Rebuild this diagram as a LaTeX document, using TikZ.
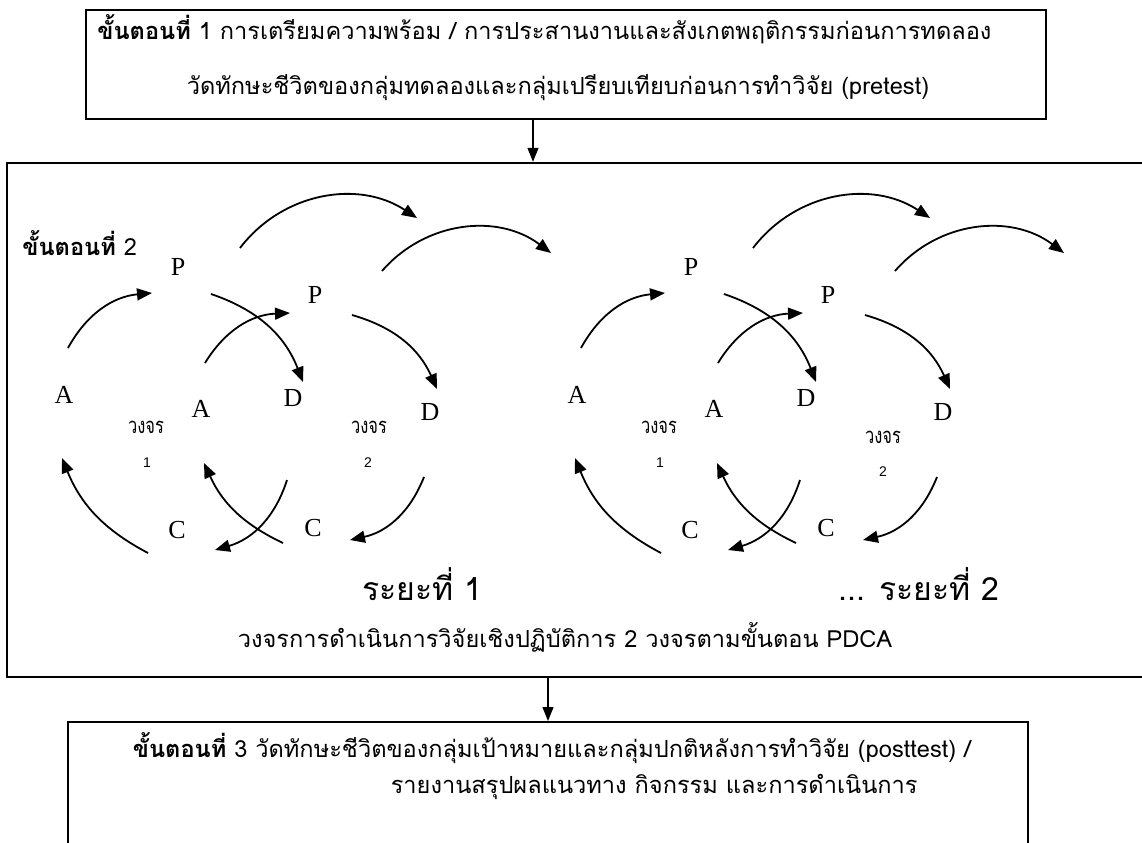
\documentclass[tikz,border=0pt]{standalone}
\usepackage{fontspec}
\usepackage{graphicx}
\setmainfont{Liberation Serif}
\newfontfamily\thaifont[Script=Thai]{Loma}
\newfontfamily\numfont{Liberation Sans}
\usetikzlibrary{arrows.meta,calc}

\tikzset{
  stepbox/.style={draw, line width=1pt, inner sep=0pt},
  flow/.style={-{Triangle[length=7pt,width=5.5pt]}, line width=0.6pt},
  cyc/.style={-{Triangle[length=7.5pt,width=6pt]}, line width=0.9pt},
  letter/.style={font=\fontsize{13}{15}\selectfont, inner sep=0pt},
  thai/.style={font=\thaifont\fontsize{11.8}{14}\selectfont, inner sep=0pt},
  phase/.style={font=\thaifont\fontsize{16}{18}\selectfont, inner sep=0pt},
  cyclab/.style={font=\thaifont\fontsize{11}{12}\selectfont, inner sep=0pt},
  cycnum/.style={font=\numfont\fontsize{7}{8}\selectfont, inner sep=0pt},
}

\begin{document}
\begin{tikzpicture}[x=0.5pt, y=-0.5pt]
  \useasboundingbox (0,0) rectangle (1142,842);

  % step boxes
  \node[stepbox, minimum width=480pt, minimum height=54.5pt] (S1) at (566,64.5) {};
  \node[stepbox, line width=1.2pt, minimum width=575pt, minimum height=257pt] (S2) at (582,420) {};
  \node[stepbox, minimum width=480pt, minimum height=70pt] (S3) at (548,792) {};
  \coordinate (f1) at (533,0);
  \coordinate (f2) at (548,0);

  % texts
  \node[thai, anchor=base west] (T1a) at (97,39) {\textbf{ขั้นตอนที่} 1 การเตรียมความพร้อม / การประสานงานและสังเกตพฤติกรรมก่อนการทดลอง};
  \node[thai, anchor=base] (T1b) at (558,94) {วัดทักษะชีวิตของกลุ่มทดลองและกลุ่มเปรียบเทียบก่อนการทำวิจัย (pretest)};
  \node[thai, anchor=base west] (T2) at (22,255) {\textbf{ขั้นตอนที่} 2};
  \node[phase, anchor=base east] (R1) at (483,600) {ระยะที่ 1};
  \node[phase, anchor=base east] (R2) at (1000,600) {... ระยะที่ 2};
  \node[thai, anchor=base] (T2b) at (565,647) {วงจรการดำเนินการวิจัยเชิงปฏิบัติการ 2 วงจรตามขั้นตอน PDCA};
  \node[thai, anchor=base] (T3a) at (552,757) {\textbf{ขั้นตอนที่} 3 วัดทักษะชีวิตของกลุ่มเป้าหมายและกลุ่มปกติหลังการทำวิจัย (posttest) /};
  \node[thai, anchor=base east] (T3b) at (918,793) {รายงานสรุปผลแนวทาง กิจกรรม และการดำเนินการ};

  % PDCA letters, phase 1
  \begin{scope}[every node/.style={letter}]
    \node (P1) at (178,267) {P};
    \node (D1) at (293,398) {D};
    \node (C1) at (177,530) {C};
    \node (A1) at (64,395) {A};
    \node (P2) at (315,295) {P};
    \node (D2) at (430,412) {D};
    \node (C2) at (313,528) {C};
    \node (A2) at (201,409) {A};
  % phase 2
    \node (P3) at (691,267) {P};
    \node (D3) at (806,398) {D};
    \node (C3) at (690,530) {C};
    \node (A3) at (577,395) {A};
    \node (P4) at (828,295) {P};
    \node (D4) at (943,412) {D};
    \node (C4) at (826,528) {C};
    \node (A4) at (714,409) {A};
  \end{scope}

  \node[cyclab] (lab1) at (146,427) {\scalebox{0.75}[1]{วงจร}};
  \node[cycnum] (num1) at (147,463) {1};
  \node[cyclab] (lab2) at (369,427) {\scalebox{0.75}[1]{วงจร}};
  \node[cycnum] (num2) at (368,463) {2};
  \node[cyclab] (lab3) at (659,427) {\scalebox{0.75}[1]{วงจร}};
  \node[cycnum] (num3) at (660,463) {1};
  \node[cyclab] (lab4) at (883,437) {\scalebox{0.75}[1]{วงจร}};
  \node[cycnum] (num4) at (883,472) {2};

  \coordinate (e1) at (417,218);
  \coordinate (e2) at (551,253);
  \coordinate (e3) at (930,218);
  \coordinate (e4) at (1064,253);

  % connectors between the steps
  \draw[flow] (S1.south -| f1) -- (S2.north -| f1);
  \draw[flow] (S2.south -| f2) -- (S3.north -| f2);

  % cycle arrows, phase 1
  \draw[cyc] ($(A1)+(4,-47)$) to[bend left=28] ($(P1)+(-26,26)$);
  \draw[cyc] ($(P1)+(33,27)$) to[bend left=25] ($(D1)+(10,-16)$);
  \draw[cyc] ($(D1)+(-6,82)$) to[bend left=28] ($(C1)+(38,20)$);
  \draw[cyc] ($(C1)+(-29,23)$) to[bend left=20] ($(A1)+(-2,63)$);
  \draw[cyc] ($(P1)+(62,-19)$) to[bend left=43] (e1);

  \draw[cyc] ($(A2)+(4,-46)$) to[bend left=28] ($(P2)+(-25,18)$);
  \draw[cyc] ($(P2)+(37,20)$) to[bend left=25] ($(D2)+(7,-23)$);
  \draw[cyc] ($(D2)+(-6,65)$) to[bend left=28] ($(C2)+(37,12)$);
  \draw[cyc] ($(C2)+(-30,15)$) to[bend left=20] ($(A2)+(3,54)$);
  \draw[cyc] ($(P2)+(67,-24)$) to[bend left=43] (e2);

  % cycle arrows, phase 2
  \draw[cyc] ($(A3)+(4,-47)$) to[bend left=28] ($(P3)+(-26,26)$);
  \draw[cyc] ($(P3)+(33,27)$) to[bend left=25] ($(D3)+(10,-16)$);
  \draw[cyc] ($(D3)+(-6,82)$) to[bend left=28] ($(C3)+(38,20)$);
  \draw[cyc] ($(C3)+(-29,23)$) to[bend left=20] ($(A3)+(-2,63)$);
  \draw[cyc] ($(P3)+(62,-19)$) to[bend left=43] (e3);

  \draw[cyc] ($(A4)+(4,-46)$) to[bend left=28] ($(P4)+(-25,18)$);
  \draw[cyc] ($(P4)+(37,20)$) to[bend left=25] ($(D4)+(7,-23)$);
  \draw[cyc] ($(D4)+(-6,65)$) to[bend left=28] ($(C4)+(37,12)$);
  \draw[cyc] ($(C4)+(-30,15)$) to[bend left=20] ($(A4)+(3,54)$);
  \draw[cyc] ($(P4)+(67,-24)$) to[bend left=43] (e4);
\end{tikzpicture}
\end{document}
